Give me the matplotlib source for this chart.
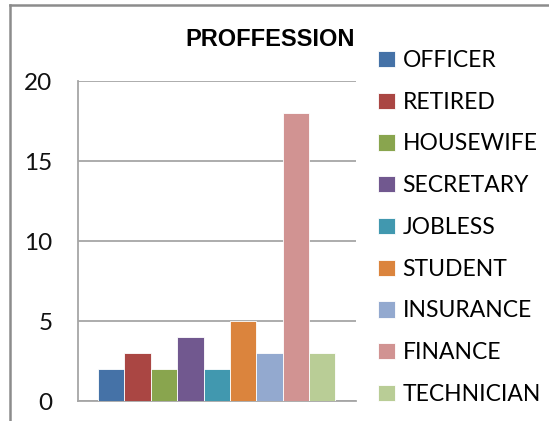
import matplotlib
matplotlib.use("Agg")
import matplotlib.pyplot as plt
from matplotlib.lines import Line2D
import numpy as np

professions = ["OFFICER", "RETIRED", "HOUSEWIFE", "SECRETARY", "JOBLESS",
               "STUDENT", "INSURANCE", "FINANCE", "TECHNICIAN"]
counts = [2, 3, 2, 4, 2, 5, 3, 18, 3]
colors = ["#4572A7", "#AA4643", "#89A54E", "#71588F", "#4198AF",
          "#DB843D", "#93A9CF", "#D19392", "#B9CD96"]
yticks = [0, 5, 10, 15, 20]

W, H = 549, 421
fig = plt.figure(figsize=(W / 100, H / 100), dpi=100)
fig.patch.set_facecolor("white")

# plot area in pixel terms
left, right, bottom, top = 78, 356, 401, 81
ax = fig.add_axes([left / W, (H - bottom) / H, (right - left) / W, (bottom - top) / H])

x = np.arange(len(professions))
bars = ax.bar(x, counts, width=1.0, color=colors, edgecolor="white",
              linewidth=0.6, zorder=3)

ax.set_xlim(-0.5 - 0.76, len(professions) - 0.5 + 0.78)
ax.set_ylim(0, 20)
ax.set_yticks(yticks)
ax.set_xticks([])
ax.yaxis.grid(True, color="#a6a6a6", linewidth=1.3, zorder=0)
ax.set_axisbelow(True)
for s in ["top", "right"]:
    ax.spines[s].set_visible(False)
for s in ["left", "bottom"]:
    ax.spines[s].set_color("#a6a6a6")
    ax.spines[s].set_linewidth(1.3)
ax.tick_params(axis="y", length=0, pad=18.5, labelsize=17.5, labelcolor="#111111")
for t in ax.get_yticklabels():
    t.set_fontfamily("Lato")

fig.text(270 / W, 1 - 40 / H, "PROFFESSION", ha="center", va="center",
         fontsize=17, fontweight="bold", fontfamily="Liberation Sans")

leg = fig.legend(handles=list(bars), labels=professions, loc="upper left",
                 bbox_to_anchor=(378 / W, 1 - 50 / H), frameon=False,
                 prop={"family": "Lato", "size": 16.5},
                 handlelength=0.72, handleheight=0.72, handletextpad=0.35,
                 labelspacing=0.905, borderaxespad=0, borderpad=0)

# outer chart border
fig.add_artist(Line2D([10 / W, 1], [1 - 5 / H, 1 - 5 / H], color="#8c8c8c",
                      linewidth=1.8, transform=fig.transFigure))
fig.add_artist(Line2D([10 / W, 10 / W], [0, 1 - 5 / H], color="#8c8c8c",
                      linewidth=1.8, transform=fig.transFigure))

fig.savefig("out.png", dpi=100, facecolor="white")
